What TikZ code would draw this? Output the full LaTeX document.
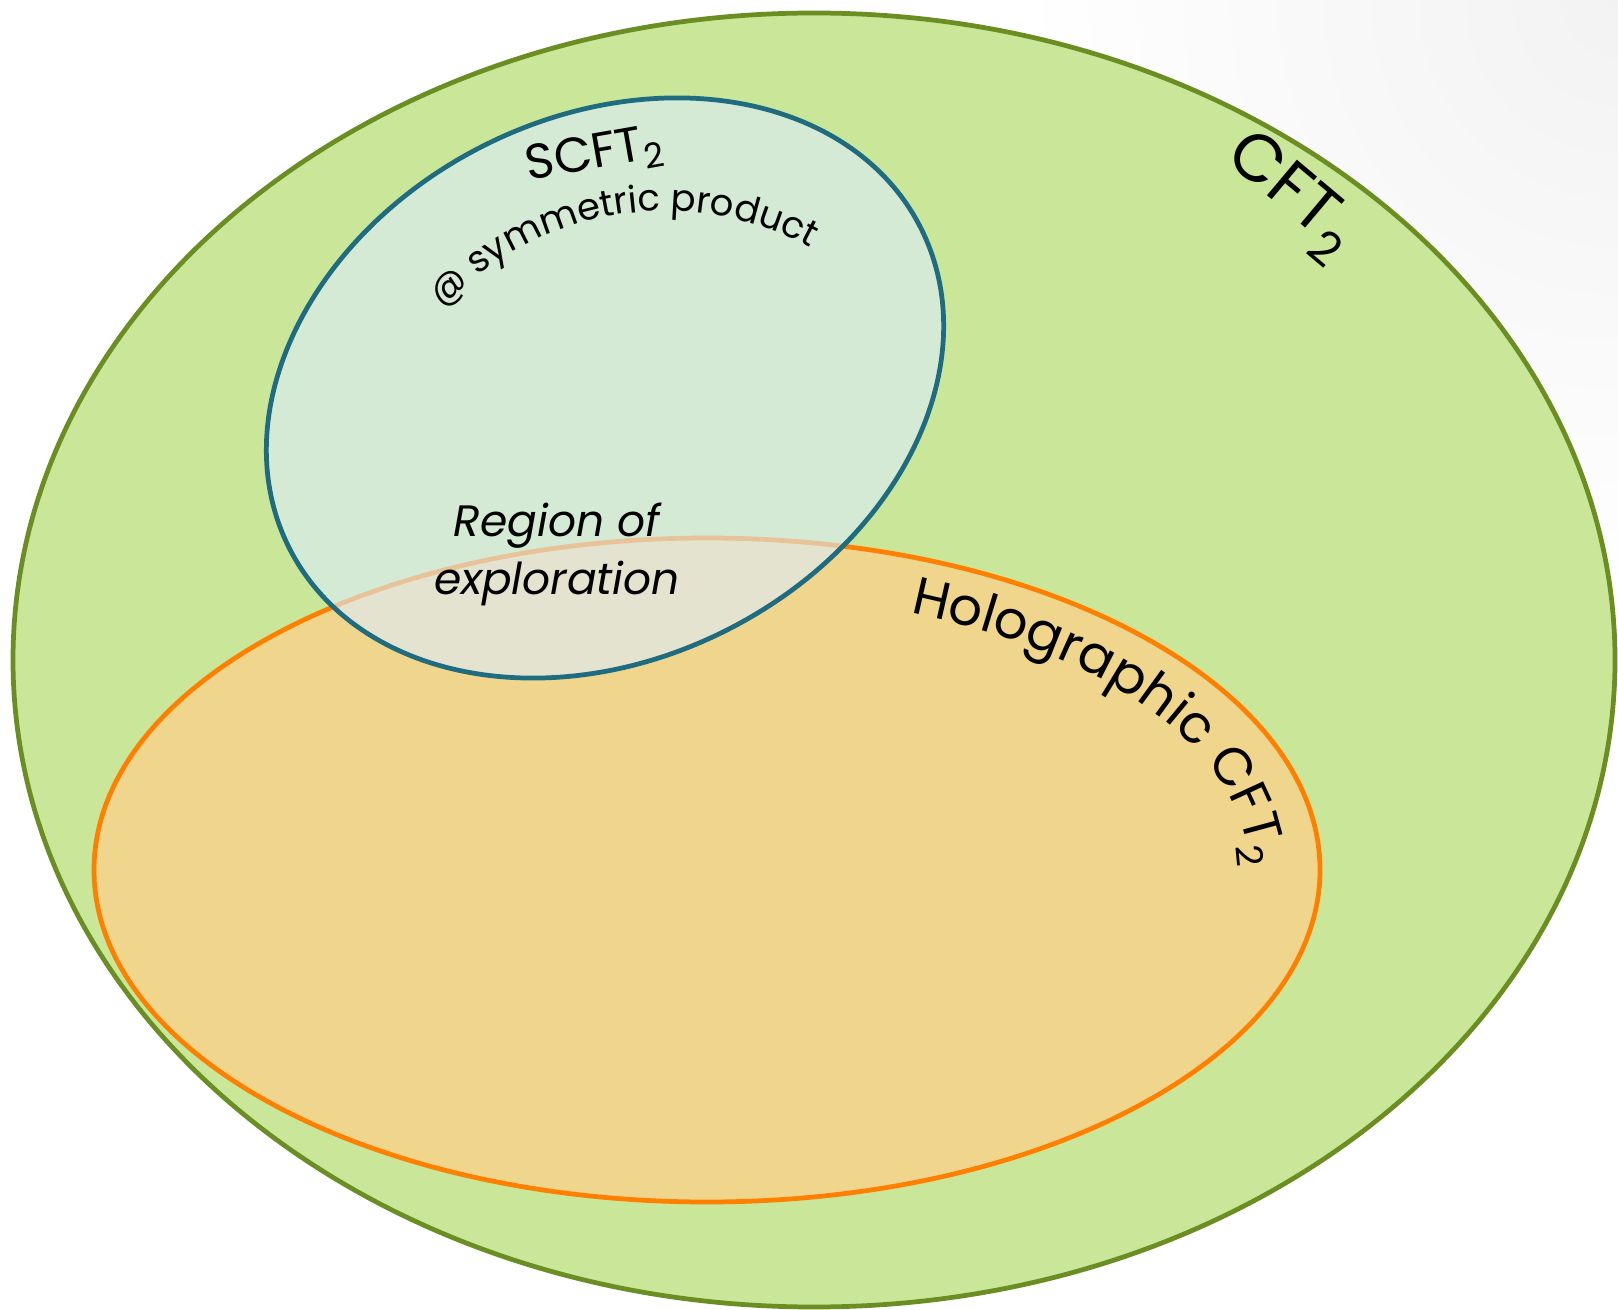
\documentclass[tikz,border=0pt]{standalone}
\usepackage{fontspec}
\setmainfont{Poppins}
\usepackage{xcolor}
\usepackage{tikz}
\usetikzlibrary{decorations.text}
\definecolor{cftfill}{RGB}{201,230,153}
\definecolor{cftline}{RGB}{107,142,35}
\definecolor{holofill}{RGB}{240,213,140}
\definecolor{hololine}{RGB}{255,128,0}
\definecolor{scftfill}{RGB}{219,237,249}
\definecolor{scftline}{RGB}{31,107,128}

\begin{document}
\begin{tikzpicture}[x=0.02cm,y=0.02cm,
	setline/.style={line width=2.7pt},
	alongpath/.style={decorate,decoration={text along path,text align=left,#1}}]
	\useasboundingbox (0,0) rectangle (1618,1309);
	% faint shadow in the corner
	\begin{scope}
		\clip (0,0) rectangle (1618,1309);
		\shade[inner color=black!5,outer color=white] (1618,1309) circle (600);
	\end{scope}
	% the three sets
	\filldraw[setline,draw=cftline,fill=cftfill] (814,649) ellipse [x radius=801,y radius=647];
	\filldraw[setline,draw=hololine,fill=holofill] (707,439) ellipse [x radius=613,y radius=332];
	\fill[scftfill,fill opacity=0.615,rotate around={27:(605,921)}] (605,921) ellipse [x radius=354,y radius=271];
	\draw[setline,scftline,rotate around={27:(605,921)}] (605,921) ellipse [x radius=354,y radius=271];
	% labels
	\node[rotate=-40] (cft) at (1290,1112) {\fontsize{38}{44}\selectfont CFT\textsubscript{2}};
	\node[rotate=10] (scft) at (595,1153) {\fontsize{28}{34}\selectfont SCFT\textsubscript{2}};
	\path[alongpath={text={|\fontsize{21}{24}\selectfont|@ symmetric product}}]
		(665,794) ++(137:304) arc [start angle=137,end angle=30,radius=304];
	\path[alongpath={text={|\fontsize{30}{36}\selectfont|Holographic CFT{\textsubscript{2}}}}]
		(707,439) ++(68:542 and 278) arc [start angle=68,end angle=-25,x radius=542,y radius=278];
	\node (region) at (557,783) {\fontsize{25}{30}\selectfont\itshape Region of};
	\node (explore) at (557,726) {\fontsize{25}{30}\selectfont\itshape exploration};
\end{tikzpicture}
\end{document}
